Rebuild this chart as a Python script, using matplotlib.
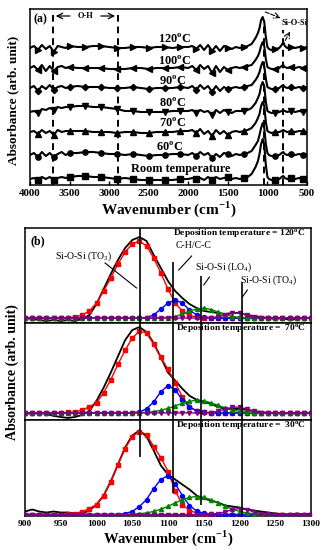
import numpy as np
import matplotlib
matplotlib.use('Agg')
import matplotlib.pyplot as plt

plt.rcParams['font.family'] = ['Liberation Serif', 'DejaVu Serif']
plt.rcParams['mathtext.fontset'] = 'custom'
plt.rcParams['mathtext.rm'] = 'Liberation Serif'
plt.rcParams['mathtext.bf'] = 'Liberation Serif:bold'
plt.rcParams['axes.linewidth'] = 1.1

# ---------------- panel (a): FTIR spectra at each deposition temperature ----------------
wn_a = [4000, 3950, 3900, 3850, 3800, 3750, 3700, 3650, 3600, 3550, 3500,
        3400, 3300, 3200, 3100, 3000, 2900, 2800, 2700, 2600, 2500, 2400, 2300, 2200, 2100, 2000,
        1950, 1900, 1850, 1800, 1750, 1700, 1650, 1600, 1550, 1500, 1450, 1400, 1350, 1300,
        1250, 1200, 1150, 1120, 1100, 1080, 1060, 1040, 1020, 1000, 980, 950, 900, 850, 820, 800,
        780, 750, 700, 650, 600, 550, 500]

# absorbance relative to each trace's own baseline (arb.)
spec_rt = [0, 1, -1, 2, 0, 2, -1, 1, 2, 1, 2,
           3, 3, 2, 2, 1, 0, 1, 0, -1, -1, -1, -1, -1, 0, 0,
           1, 0, 1, -1, 2, -1, 2, 0, 1, 2, 0, 1, 0, 1,
           2, 5, 12, 18, 25, 35, 40, 34, 14, 2, 0, -1, -1, 0, 2, 3, 1, 0, 1, 0, 1, 0, 1]
spec_60 = [0, 2, -2, 3, -1, 2, -2, 1, 3, 0, 2,
           2, 3, 3, 2, 1, 1, 0, 1, 0, -1, 0, 0, 1, 1, 0,
           2, -1, 3, 0, 2, -3, 1, -2, 2, 1, -1, 1, 0, 1,
           2, 4, 10, 14, 20, 27, 32, 27, 11, 2, 0, -1, -1, 0, 2, 3, 1, 0, 1, 0, 1, 0, 1]
spec_70 = [0, 1, -2, 2, -1, 1, -3, 2, 0, 1, 1,
           1, 1, 0, 0, 0, -1, 0, 0, -1, -1, 0, 0, 0, 1, 1,
           2, -1, 3, -2, 1, -4, 2, -2, 1, -3, 0, 1, 0, 1,
           2, 4, 9, 14, 18, 26, 30, 26, 10, 1, 0, -1, 0, 0, 1, 2, 1, 0, 1, 0, 1, 1, 0]
spec_80 = [0, 1, -1, 3, 2, 4, 2, 5, 4, 5, 5,
           6, 6, 5, 5, 4, 3, 1, 1, 0, 0, 0, 0, 1, 1, 1,
           2, -1, 2, 0, 1, -3, 2, -1, 2, 0, -1, 1, 1, 1,
           2, 4, 9, 14, 18, 26, 30, 26, 10, 1, 0, -1, -1, 0, 1, 2, 1, 0, 1, 0, 1, 0, 1]
spec_90 = [0, 2, -3, 2, -1, 3, -2, 1, 2, 0, 1,
           2, 1, 1, 1, 0, 0, 0, 1, 0, -1, 0, 0, 0, 1, 0,
           2, -2, 3, -1, 2, -4, 2, -3, 1, -1, 0, 1, 0, 1,
           2, 3, 8, 12, 16, 22, 26, 22, 9, 1, 0, -1, -1, 0, 2, 3, 1, 0, 1, 0, 1, 0, 1]
spec_100 = [0, 2, -2, 3, -3, 2, -3, 1, 2, 0, 1,
            0, 0, 0, 0, -1, -1, -1, 0, 0, -1, 0, 0, 0, 1, 0,
            2, -2, 3, -1, 2, -5, 2, -4, 1, -2, 0, 1, 0, 1,
            2, 3, 8, 12, 16, 22, 26, 22, 9, 1, 0, -1, -1, 0, 2, 3, 1, 0, 1, 0, 1, 0, 1]
spec_120 = [0, 2, -2, 3, -1, 2, -4, 2, 1, 0, 2,
            1, 1, 2, 2, 1, 0, 0, 1, 1, 0, 1, 1, 0, 1, 1,
            2, -1, 3, -2, 3, -3, 2, -3, 2, 0, -1, 1, 0, 1,
            2, 4, 10, 15, 20, 28, 31, 26, 11, 1, -1, -2, -1, 0, 3, 6, 2, 0, 1, 0, 1, 0, 1]

spectra_a = [spec_rt, spec_60, spec_70, spec_80, spec_90, spec_100, spec_120]
offsets_a = [6, 30, 53, 73, 97, 117, 137]
labels_a = ['Room temperature', r'60$^{\mathbf{o}}$C', r'70$^{\mathbf{o}}$C', r'80$^{\mathbf{o}}$C',
            r'90$^{\mathbf{o}}$C', r'100$^{\mathbf{o}}$C', r'120$^{\mathbf{o}}$C']
label_x_a = [2090, 2240, 2200, 2200, 2200, 2180, 2180]
label_y_a = [16, 38, 62, 82, 104, 124, 146]
markers_a = ['s', 'o', '^', 'v', 'D', '<', '>']
marker_wn = [3900, 3700, 3500, 3300, 3100, 2900, 2700, 2500, 2300, 2100,
             1900, 1700, 1500, 1300, 900, 700, 550]

# ---------------- panel (b): Si-O-Si band deconvolution ----------------
wn_b = np.arange(900, 1301, 10)

meas_120 = [0, -1, -2, -3, -2, -3, -2, -3, -1, 3, 14, 29, 44, 58, 70, 78, 81, 77, 63, 50,
            37, 27, 20, 14, 10, 7, 6, 5, 4, 5, 5, 3, 2, 1, 0, -1, 0, -2, -1, 0, 0]
to3_120 = [0, 0, 0, 0, 0, 0, 0.3, 1, 3, 7, 15, 27, 40, 54, 66, 74, 77, 72, 60, 45,
           29, 15, 7, 2.5, 1, 0.3, 0, 0, 0, 0, 0, 0, 0, 0, 0, 0, 0, 0, 0, 0, 0]
ch_120 = [0, 0, 0, 0, 0, 0, 0, 0, 0, 0, 0, 0, 0, 0, 0, 0, 0, 0.5, 3, 9,
          15, 18, 15, 8, 3, 1, 0.3, 0, 0, 0, 0, 0, 0, 0, 0, 0, 0, 0, 0, 0, 0]
lo4_120 = [0, 0, 0, 0, 0, 0, 0, 0, 0, 0, 0, 0, 0, 0, 0, 0, 0, 0, 0, 0,
           0.5, 1.5, 4, 7, 9, 10, 8.5, 6, 3.5, 1.5, 0.6, 0.2, 0, 0, 0, 0, 0, 0, 0, 0, 0]
to4_120 = [0, 0, 0, 0, 0, 0, 0, 0, 0, 0, 0, 0, 0, 0, 0, 0, 0, 0, 0, 0,
           0, 0, 0, 0, 0, 0, 0.3, 1.2, 3.0, 4.7, 4.7, 3.0, 1.2, 0.3, 0, 0, 0, 0, 0, 0, 0]

meas_70 = [0, -1, 0, -1, -3, -4, -5, -4, -2, 2, 12, 25, 40, 56, 72, 82, 85, 80, 69, 55,
           40, 32, 24, 17, 13, 11, 9, 6, 4, 4, 4, 3, 2, 1, 0, 0, -1, 0, -1, 0, 0]
to3_70 = [0, 0, 0, 0, 0, 0, 0.5, 1, 3, 6, 10, 20, 33, 48, 62, 74, 81, 79, 68, 55,
          43, 30, 16, 6, 2, 0.5, 0, 0, 0, 0, 0, 0, 0, 0, 0, 0, 0, 0, 0, 0, 0]
ch_70 = [0, 0, 0, 0, 0, 0, 0, 0, 0, 0, 0, 0, 0, 0, 0, 0.3, 1, 4, 11, 21,
         27, 23, 13, 6, 2, 0.7, 0.2, 0, 0, 0, 0, 0, 0, 0, 0, 0, 0, 0, 0, 0, 0]
lo4_70 = [0, 0, 0, 0, 0, 0, 0, 0, 0, 0, 0, 0, 0, 0, 0, 0, 0.2, 0.6, 1.3, 2.6,
          4.5, 7, 9.5, 11.5, 12.5, 12, 10, 7.5, 5, 3, 1.5, 0.7, 0.3, 0, 0, 0, 0, 0, 0, 0, 0]
to4_70 = [0, 0, 0, 0, 0, 0, 0, 0, 0, 0, 0, 0, 0, 0, 0, 0, 0, 0, 0, 0,
          0, 0, 0, 0, 0, 0, 0.4, 1.6, 3.8, 5.7, 5.7, 3.8, 1.6, 0.4, 0, 0, 0, 0, 0, 0, 0]

meas_30 = [3, 5, 3, 2, 3, 2, 2, 1, 1, 4, 10, 19, 33, 50, 67, 79, 84, 78, 64, 49,
           40, 35, 30, 25, 19, 16, 14, 12, 9, 8, 7, 5, 4, 3, 2, 1, 0.5, 0, 1, 0, 1]
to3_30 = [0, 0, 0, 0, 0, 0, 0.5, 1, 3, 6, 10, 19, 33, 50, 66, 78, 83, 80, 68, 57,
          43, 24, 10, 4, 1.5, 0.5, 0, 0, 0, 0, 0, 0, 0, 0, 0, 0, 0, 0, 0, 0, 0]
ch_30 = [0, 0, 0, 0, 0, 0, 0, 0, 0, 0, 0, 0, 0, 0, 1, 3, 8, 15, 26, 35,
         39, 31, 19, 9, 3.5, 1.2, 0.3, 0, 0, 0, 0, 0, 0, 0, 0, 0, 0, 0, 0, 0, 0]
lo4_30 = [0, 0, 0, 0, 0, 0, 0, 0, 0, 0, 0, 0, 0, 0, 0, 0.3, 0.8, 1.6, 3.1, 5.3,
          8.2, 11.6, 14.8, 17.1, 18, 17.1, 14.8, 11.6, 8.2, 5.3, 3.1, 1.6, 0.8, 0.3, 0, 0, 0, 0, 0, 0, 0]
to4_30 = [0, 0, 0, 0, 0, 0, 0, 0, 0, 0, 0, 0, 0, 0, 0, 0, 0, 0, 0, 0,
          0, 0, 0, 0, 0, 0, 0.3, 1.0, 2.7, 4.9, 6, 4.9, 2.7, 1.0, 0.3, 0, 0, 0, 0, 0, 0]

panels_b = [
    (meas_120, to3_120, ch_120, lo4_120, to4_120, '120'),
    (meas_70, to3_70, ch_70, lo4_70, to4_70, ' 70'),
    (meas_30, to3_30, ch_30, lo4_30, to4_30, ' 30'),
]
ylims_b = [(-5, 90), (-7, 89), (-1.5, 94.5)]
comp_colors = ['#ff0000', '#0000ff', '#008000', '#800080']
comp_markers = ['s', 'o', '^', 'v']

fig = plt.figure(figsize=(3.27, 5.50), dpi=100)

# ---- (a)
ax = fig.add_axes([30 / 327, 1 - 185 / 550, 277 / 327, 176 / 550])
wn_arr = np.array(wn_a)
mk_idx = list(np.where(np.isin(wn_arr, marker_wn))[0])
for spec, off, mk in zip(spectra_a, offsets_a, markers_a):
    ms = 3.2 if mk == 'D' else 3.8
    ax.plot(wn_arr, np.array(spec) + off, color='black', lw=1.5,
            marker=mk, ms=ms, markevery=mk_idx)
for lab, lx, ly in zip(labels_a, label_x_a, label_y_a):
    ax.text(lx, ly, lab, ha='center', va='center', fontsize=8.8, fontweight='bold')

dash = (0, (3.5, 2.5))
ax.plot([3710, 3710], [0, 170], color='black', lw=1.4, ls=dash)
ax.plot([2890, 2890], [0, 170], color='black', lw=1.4, ls=dash)
ax.plot([1040, 1040], [0, 165], color='black', lw=1.4, ls=dash)
ax.plot([800, 800], [0, 155], color='black', lw=1.4, ls=dash)
ax.text(3300, 169, 'O-H', ha='center', va='center', fontsize=6, fontweight='bold')
ax.annotate('', xy=(3710, 169), xytext=(3460, 169),
            arrowprops=dict(arrowstyle='->', lw=0.9, color='black'))
ax.annotate('', xy=(2890, 169), xytext=(3140, 169),
            arrowprops=dict(arrowstyle='->', lw=0.9, color='black'))
ax.text(660, 162, 'Si-O-Si', ha='center', va='center', fontsize=6, fontweight='bold')
ax.annotate('', xy=(800, 166), xytext=(1060, 174),
            arrowprops=dict(arrowstyle='->', lw=0.8, color='black', ls='--'))
ax.annotate('', xy=(700, 156), xytext=(790, 142),
            arrowprops=dict(arrowstyle='->', lw=0.8, color='black', ls='--'))
ax.text(0.012, 0.975, '(a)', transform=ax.transAxes, ha='left', va='top',
        fontsize=8.5, fontweight='bold')

ax.set_xlim(4000, 500)
ax.set_ylim(0, 176)
ax.set_yticks([])
ax.set_xticks(np.arange(4000, 499, -500))
ax.tick_params(axis='x', direction='in', length=3, width=1, labelsize=7.8, pad=3)
for t in ax.get_xticklabels():
    t.set_fontweight('bold')
ax.set_xlabel(r'Wavenumber (cm$^{\mathbf{-1}}$)', fontsize=11, fontweight='bold', labelpad=1)
fig.text(13 / 327, 1 - 100 / 550, 'Absorbance (arb. unit)', rotation=90, ha='center',
         va='center', fontsize=9.5, fontweight='bold')

# ---- (b)
tops = [228, 323, 420]
bots = [323, 420, 516]
axes_b = []
for i, (meas, c1, c2, c3, c4, temp) in enumerate(panels_b):
    axb = fig.add_axes([25 / 327, 1 - bots[i] / 550, 286 / 327, (bots[i] - tops[i]) / 550])
    axb.plot(wn_b, meas, color='black', lw=1.3, zorder=3)
    for comp, col, mk in zip([c1, c2, c3, c4], comp_colors, comp_markers):
        axb.plot(wn_b, comp, color=col, lw=1.0, marker=mk, ms=2.9, zorder=4)
    axb.set_xlim(900, 1300)
    axb.set_ylim(*ylims_b[i])
    axb.set_yticks([])
    axb.text(1293, ylims_b[i][1] - 6,
             'Deposition temperature = ' + temp + r'$^{\mathbf{o}}$C',
             ha='right', va='center', fontsize=6.8, fontweight='bold')
    if i < 2:
        axb.set_xticks([])
    else:
        axb.set_xticks(np.arange(900, 1301, 50))
        axb.tick_params(axis='x', direction='in', length=2.5, width=1, labelsize=6.8, pad=3)
        for t in axb.get_xticklabels():
            t.set_fontweight('bold')
        axb.set_xlabel(r'Wavenumber (cm$^{\mathbf{-1}}$)', fontsize=10.5,
                       fontweight='bold', labelpad=0)
    axes_b.append(axb)

axes_b[0].text(0.02, 0.86, '(b)', transform=axes_b[0].transAxes, ha='left', va='center',
               fontsize=8.5, fontweight='bold')
fig.text(12 / 327, 1 - 372 / 550, 'Absorbance (arb. unit)', rotation=90, ha='center',
         va='center', fontsize=10, fontweight='bold')

# overlay spanning the three stacked plots: peak position lines and labels (pixel rows on y)
ov = fig.add_axes([25 / 327, 1 - 516 / 550, 286 / 327, 288 / 550], facecolor='none')
ov.set_xlim(900, 1300)
ov.set_ylim(516, 228)
ov.axis('off')
peak_pos = [1061, 1107, 1146, 1203]
line_top = [228, 262, 276, 282]
line_bot = [457, 493, 505, 516]
ov.vlines(peak_pos, line_top, line_bot, color='black', lw=1.2, zorder=6)

ann_text = [r'Si-O-Si (TO$_3$)', 'C-H/C-C', r'Si-O-Si (LO$_4$)', r'Si-O-Si (TO$_4$)']
ann_xy_text = [(982, 256), (1136, 245), (1178, 267), (1240, 280)]
ann_line = [((1012, 263), (1056, 288)), ((1133, 256), (1115, 270)),
            ((1158, 277), (1150, 285)), ((1211, 290), (1204, 297))]
for txt, (tx, ty), ((x0, y0), (x1, y1)) in zip(ann_text, ann_xy_text, ann_line):
    ov.text(tx, ty, txt, ha='center', va='center', fontsize=7)
    ov.plot([x0, x1], [y0, y1], color='black', lw=0.8)

fig.savefig('out.png', dpi=100)
